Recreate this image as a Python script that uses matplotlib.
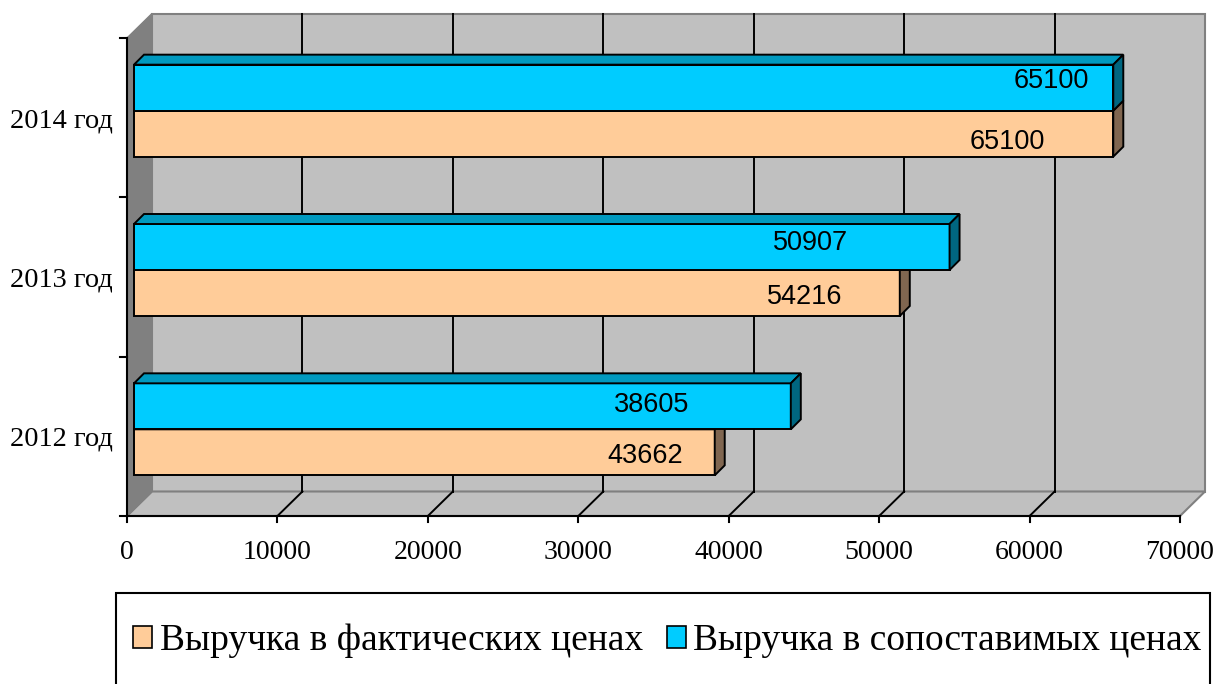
import matplotlib.pyplot as plt
from matplotlib.patches import Polygon, Rectangle, Patch
import numpy as np

# data
years = ['2012 год', '2013 год', '2014 год']
fact_prices = [43662, 54216, 65100]        # labels on the orange bars
comparable_prices = [38605, 50907, 65100]  # labels on the blue bars
x_ticks = [0, 10000, 20000, 30000, 40000, 50000, 60000, 70000]
legend_labels = ['Выручка в фактических ценах', 'Выручка в сопоставимых ценах']

# NOTE: in the source picture the bar lengths are swapped against their labels:
# the orange bar is as long as the comparable value and the blue one as the fact value.
orange_len = comparable_prices
blue_len = fact_prices

# label centres along the axis (value units) and small vertical nudges (px)
orange_label_x = [34435, 45070, 58500]
blue_label_x = [34900, 45470, 61420]
orange_label_dy = [1, 1, 5.5]
blue_label_dy = [-4, -6, -9]

W, H = 1218, 684
X0_PX, XEND_PX = 127, 1180
Y_TOP_PX, Y_BOT_PX = 38, 516
XMAX = 70000
S = (XEND_PX - X0_PX) / XMAX
BAND = (Y_BOT_PX - Y_TOP_PX) / 3


def dx(px):
    return px / S


def dy(px):
    return px / BAND


fig = plt.figure(figsize=(W / 100, H / 100), dpi=100)
ax = fig.add_axes([0, 0, 1, 1])
ax.set_xlim(-dx(X0_PX), dx(W - X0_PX))
ax.set_ylim(-0.5 - dy(H - Y_BOT_PX), 2.5 + dy(Y_TOP_PX))
ax.axis('off')

DX, DY = dx(25), dy(24.5)
y0, y1 = -0.5, 2.5

# walls and floor
ax.add_patch(Rectangle((DX, y0 + DY), XMAX, y1 - y0, facecolor='#C0C0C0',
                       edgecolor='#808080', lw=1.5, zorder=1))
ax.add_patch(Polygon([(0, y0), (XMAX, y0), (XMAX + DX, y0 + DY), (DX, y0 + DY)],
                     closed=True, facecolor='#C0C0C0', edgecolor='#808080', lw=1.5, zorder=1))
ax.add_patch(Polygon([(0, y0), (DX, y0 + DY), (DX, y1 + DY), (0, y1)],
                     closed=True, facecolor='#808080', edgecolor='#808080', lw=1, zorder=1))
for v in x_ticks[1:-1]:
    ax.plot([v + DX, v + DX], [y0 + DY, y1 + DY], color='black', lw=1.4, zorder=2)
    ax.plot([v, v + DX], [y0, y0 + DY], color='black', lw=1.4, zorder=2)

# bars
idx = np.arange(len(years))
h = dy(46)
fx, fy = dx(7), dy(7)
bx, by = dx(10), dy(10)


def bar3d(yc, length, front, top, side):
    ax.barh(yc, length, height=h, left=fx, color=front, edgecolor='black', lw=1.4, zorder=3)
    ytop, ybot = yc + h / 2, yc - h / 2
    xe = fx + length
    ax.add_patch(Polygon([(fx, ytop), (xe, ytop), (xe + bx, ytop + by), (fx + bx, ytop + by)],
                         closed=True, facecolor=top, edgecolor='black', lw=1.4, zorder=3))
    ax.add_patch(Polygon([(xe, ybot), (xe + bx, ybot + by), (xe + bx, ytop + by), (xe, ytop)],
                         closed=True, facecolor=side, edgecolor='black', lw=1.4, zorder=3))


for i in idx:
    yc_o = i + fy - h / 2
    yc_b = i + fy + h / 2
    bar3d(yc_o, orange_len[i], '#FFCC99', '#BF9973', '#806650')
    bar3d(yc_b, blue_len[i], '#00CCFF', '#0099BF', '#006680')
    ax.text(orange_label_x[i], yc_o - dy(orange_label_dy[i]) - dy(9.5), str(fact_prices[i]),
            ha='center', va='baseline', fontsize=19.5, family='Liberation Sans', zorder=5)
    ax.text(blue_label_x[i], yc_b - dy(blue_label_dy[i]) - dy(9.5), str(comparable_prices[i]),
            ha='center', va='baseline', fontsize=19.5, family='Liberation Sans', zorder=5)

# axes lines and ticks
ax.plot([0, 0], [y0, y1], color='black', lw=1.5, zorder=4)
for t in [-0.5, 0.5, 1.5, 2.5]:
    ax.plot([-dx(7), 0], [t, t], color='black', lw=1.5, zorder=4)
ax.plot([0, XMAX], [y0, y0], color='black', lw=1.5, zorder=4)
for v in x_ticks:
    ax.plot([v, v], [y0, y0 - dy(6)], color='black', lw=1.5, zorder=4)
    ax.text(v, y0 - dy(34) - dy(9), str(v), ha='center', va='baseline',
            fontsize=20, family='Liberation Serif')
for i, name in enumerate(years):
    ax.text(-dx(14), i, name, ha='right', va='center_baseline',
            fontsize=20.5, family='Liberation Serif')

# legend
fig.patches.append(Rectangle((116 / W, -0.05), (1210 - 116) / W, 0.05 + (H - 593) / H,
                             transform=fig.transFigure, facecolor='white',
                             edgecolor='black', lw=1.5, zorder=0))
handles = [Patch(facecolor='#FFCC99', edgecolor='black', lw=1.2),
           Patch(facecolor='#00CCFF', edgecolor='black', lw=1.2)]
fig.legend(handles, legend_labels, loc='center left', bbox_to_anchor=(133 / W, 1 - 641 / H),
           ncol=2, frameon=False, borderpad=0, borderaxespad=0,
           handlelength=0.5, handleheight=0.5, handletextpad=0.21, columnspacing=0.64,
           prop={'family': 'Liberation Serif', 'size': 27})

fig.savefig('out.png', dpi=100)
